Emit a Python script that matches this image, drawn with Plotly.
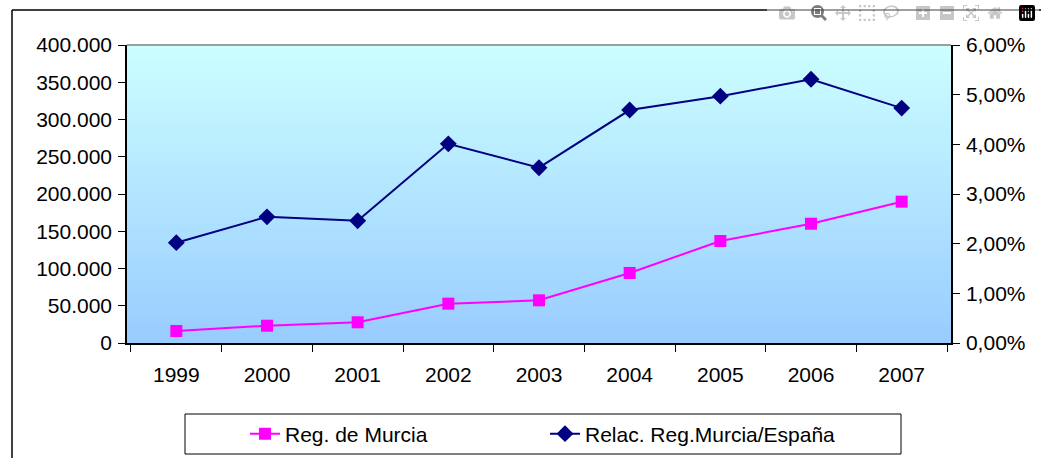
import base64
import struct
import zlib

import plotly.graph_objects as go

years = ["1999", "2000", "2001", "2002", "2003", "2004", "2005", "2006", "2007"]
murcia = [16100, 23200, 27800, 52800, 57300, 94000, 136900, 160100, 189700]
ratio = [0.0202, 0.0254, 0.0246, 0.0401, 0.0353, 0.0469, 0.0497, 0.0531, 0.0473]

left_ticks = [0, 50000, 100000, 150000, 200000, 250000, 300000, 350000, 400000]
right_ticks = [0, 0.01, 0.02, 0.03, 0.04, 0.05, 0.06]

FONT = "Arial, Liberation Sans, sans-serif"

# plot area in pixels
W, H = 1041, 458
L, R, T, B = 127, 90, 45, 115
PW, PH = W - L - R, H - T - B


def px_x(x):
    return (x - L) / PW


def px_y(y):
    return (H - B - y) / PH


def gradient_png(top, bottom, h=256):
    rows = b""
    for i in range(h):
        t = i / (h - 1)
        rows += b"\x00" + bytes(round(a + (b - a) * t) for a, b in zip(top, bottom))

    def chunk(tag, data):
        return struct.pack(">I", len(data)) + tag + data + struct.pack(">I", zlib.crc32(tag + data) & 0xFFFFFFFF)

    png = (
        b"\x89PNG\r\n\x1a\n"
        + chunk(b"IHDR", struct.pack(">IIBBBBB", 1, h, 8, 2, 0, 0, 0))
        + chunk(b"IDAT", zlib.compress(rows))
        + chunk(b"IEND", b"")
    )
    return "data:image/png;base64," + base64.b64encode(png).decode()


fig = go.Figure()
fig.add_trace(
    go.Scatter(
        x=years,
        y=murcia,
        name="Reg. de Murcia",
        mode="lines+markers",
        line=dict(color="#ff00ff", width=2),
        marker=dict(symbol="square", size=12, color="#ff00ff"),
    )
)
fig.add_trace(
    go.Scatter(
        x=years,
        y=ratio,
        name="Relac. Reg.Murcia/España",
        yaxis="y2",
        mode="lines+markers",
        line=dict(color="#000080", width=2),
        marker=dict(symbol="diamond", size=13, color="#000080"),
    )
)

axis_style = dict(
    showgrid=False,
    zeroline=False,
    showline=True,
    linecolor="black",
    linewidth=1.5,
    ticks="outside",
    ticklen=7,
    tickcolor="black",
    automargin=False,
)

fig.update_layout(
    width=W,
    height=H,
    margin=dict(l=L, r=R, t=T, b=B, autoexpand=False),
    paper_bgcolor="white",
    plot_bgcolor="rgba(0,0,0,0)",
    separators=",.",
    font=dict(family=FONT, size=21, color="black"),
    showlegend=True,
    xaxis=dict(type="category", tickson="boundaries", ticklabelstandoff=12, **axis_style),
    yaxis=dict(range=[0, 400000], tickvals=left_ticks, tickformat=",d", ticklabelstandoff=2, **axis_style),
    yaxis2=dict(
        range=[0, 0.06],
        tickvals=right_ticks,
        tickformat=".2%",
        overlaying="y",
        side="right",
        ticklabelstandoff=2,
        **axis_style,
    ),
    legend=dict(
        orientation="h",
        x=px_x(245),
        xanchor="left",
        y=px_y(434),
        yanchor="middle",
        entrywidth=255,
        bgcolor="rgba(0,0,0,0)",
        font=dict(family=FONT, size=21),
    ),
    images=[
        dict(
            source=gradient_png((204, 255, 255), (153, 204, 255)),
            xref="paper",
            yref="paper",
            x=0,
            y=1,
            sizex=1,
            sizey=1,
            sizing="stretch",
            xanchor="left",
            yanchor="top",
            layer="below",
        )
    ],
    shapes=[
        # grey top edge of the plot area
        dict(type="line", xref="paper", yref="paper", x0=0, x1=1, y0=1, y1=1, line=dict(color="#808080", width=1.5)),
        # outer chart frame: only its left and top edges fall inside the picture
        dict(type="line", xref="paper", yref="paper", x0=px_x(12), x1=px_x(1100), y0=px_y(10), y1=px_y(10),
             line=dict(color="black", width=1.5)),
        dict(type="line", xref="paper", yref="paper", x0=px_x(12), x1=px_x(12), y0=px_y(10), y1=px_y(500),
             line=dict(color="black", width=1.5)),
        # legend frame
        dict(
            type="rect", xref="paper", yref="paper",
            x0=px_x(185), x1=px_x(901), y0=px_y(454), y1=px_y(414),
            line=dict(color="black", width=1),
        ),
    ],
)

fig.write_html(
    "out.html",
    post_script="document.body.style.margin='0';document.body.style.overflow='hidden';",
)
